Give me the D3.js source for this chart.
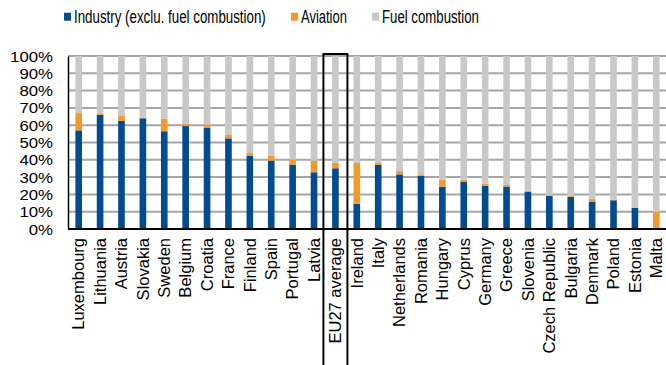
<!DOCTYPE html>
<html>
<head>
<meta charset="utf-8">
<script src="https://cdn.jsdelivr.net/npm/d3@7"></script>
<style>
  html, body { margin: 0; padding: 0; background: #fff; }
  svg { display: block; font-family: "Liberation Sans", Arial, sans-serif; }
</style>
</head>
<body>
<svg id="chart" width="666" height="365"></svg>
<script>
// Emission shares by country (%), stacked to 100
const countries = ["Luxembourg","Lithuania","Austria","Slovakia","Sweden","Belgium","Croatia","France",
  "Finland","Spain","Portugal","Latvia","EU27 average","Ireland","Italy","Netherlands","Romania",
  "Hungary","Cyprus","Germany","Greece","Slovenia","Czech Republic","Bulgaria","Denmark","Poland",
  "Estonia","Malta"];
const industry = [57,66,62.5,64,56.5,59.5,58.4,52.4,42.2,39.5,37.2,32.8,35.1,14.6,37,31.6,30.8,
  24.5,27.4,25,24.5,21.6,19.2,18.5,15.8,16.6,12.3,0];
const aviation = [10,0.5,2.8,0.3,7.3,1.5,2,2,1.7,2.9,2.9,6.7,3.2,23.7,1.3,1.9,0.8,
  4,1,1.2,1,0.5,0.2,0.5,1.7,0.3,0,9.8];
const fuel = industry.map((v, i) => 100 - v - aviation[i]);
const yTicks = [0,10,20,30,40,50,60,70,80,90,100];
const seriesNames = ["Industry (exclu. fuel combustion)","Aviation","Fuel combustion"];
const seriesKeys = ["industry","aviation","fuel"];
const colors = ["#004c8f","#f39a2b","#c8c8c8"];
const highlight = "EU27 average";

const rows = countries.map((c, i) => ({country: c, industry: industry[i], aviation: aviation[i], fuel: fuel[i]}));

const svg = d3.select("#chart");
const margin = {left: 68, right: -1};
const W = 666;

const x = d3.scaleBand().domain(countries).range([margin.left, W - margin.right]).paddingInner(0.69).paddingOuter(0.345);
const y = d3.scaleLinear().domain([0, 100]).range([229, 56]);

// gridlines
svg.append("g").selectAll("line").data(yTicks.filter(t => t > 0)).join("line")
  .attr("x1", margin.left).attr("x2", W)
  .attr("y1", d => y(d)).attr("y2", d => y(d))
  .attr("stroke", "#a6a6a6").attr("stroke-width", 2);

// stacked bars
const stack = d3.stack().keys(seriesKeys)(rows);
svg.append("g").selectAll("g").data(stack).join("g")
  .attr("fill", (d, i) => colors[i])
  .selectAll("rect").data(d => d).join("rect")
  .attr("x", d => x(d.data.country))
  .attr("width", x.bandwidth())
  .attr("y", d => y(d[1]))
  .attr("height", d => y(d[0]) - y(d[1]));

// y axis (labels slightly widened)
const yAxis = svg.append("g").attr("transform", `translate(${margin.left},0)`)
  .call(d3.axisLeft(y).tickValues(yTicks).tickFormat(d => d + "%").tickSize(0).tickPadding(15));
yAxis.select(".domain").attr("stroke", "#000").attr("stroke-width", 1.5);
yAxis.selectAll("text").attr("font-size", 14).attr("fill", "#000")
  .attr("font-family", "Liberation Sans, Arial, sans-serif")
  .attr("x", -15 / 1.2).attr("dy", "0.36em")
  .attr("transform", "scale(1.2,1)");

// x axis
const xAxis = svg.append("g").attr("transform", `translate(0,${y(0)})`)
  .call(d3.axisBottom(x).tickSize(0).tickSizeOuter(0));
xAxis.select(".domain").attr("stroke", "#000").attr("stroke-width", 2)
  .attr("d", `M${margin.left},0H${W}`);
xAxis.selectAll("text")
  .attr("font-size", 16.5).attr("fill", "#000")
  .attr("font-family", "Liberation Sans, Arial, sans-serif")
  .attr("text-anchor", "end")
  .attr("transform", "rotate(-90)")
  .attr("x", -9).attr("y", 0).attr("dy", "0.35em");

// highlight box around the EU average
const hx = x(highlight) + x.bandwidth() / 2;
svg.append("rect")
  .attr("x", hx - 12).attr("y", 54)
  .attr("width", 24).attr("height", 320)
  .attr("fill", "none").attr("stroke", "#000").attr("stroke-width", 2);

// legend (condensed type: each label squeezed horizontally to its target width)
const legendX = [64, 291, 372];
const legendW = [192, 46, 97];
const lg = svg.append("g").selectAll("g").data(seriesNames).join("g")
  .attr("transform", (d, i) => `translate(${legendX[i]},0)`);
lg.append("rect").attr("x", 0).attr("y", 12.7).attr("width", 7).attr("height", 8)
  .attr("fill", (d, i) => colors[i]);
lg.append("text").attr("x", 0).attr("y", 0)
  .attr("font-size", 18.5).attr("fill", "#000")
  .text(d => d)
  .each(function(d, i) {
    const natural = this.getComputedTextLength();
    const sx = legendW[i] / natural;
    d3.select(this).attr("transform", `translate(10,22.7) scale(${sx},1)`);
  });
</script>
</body>
</html>
